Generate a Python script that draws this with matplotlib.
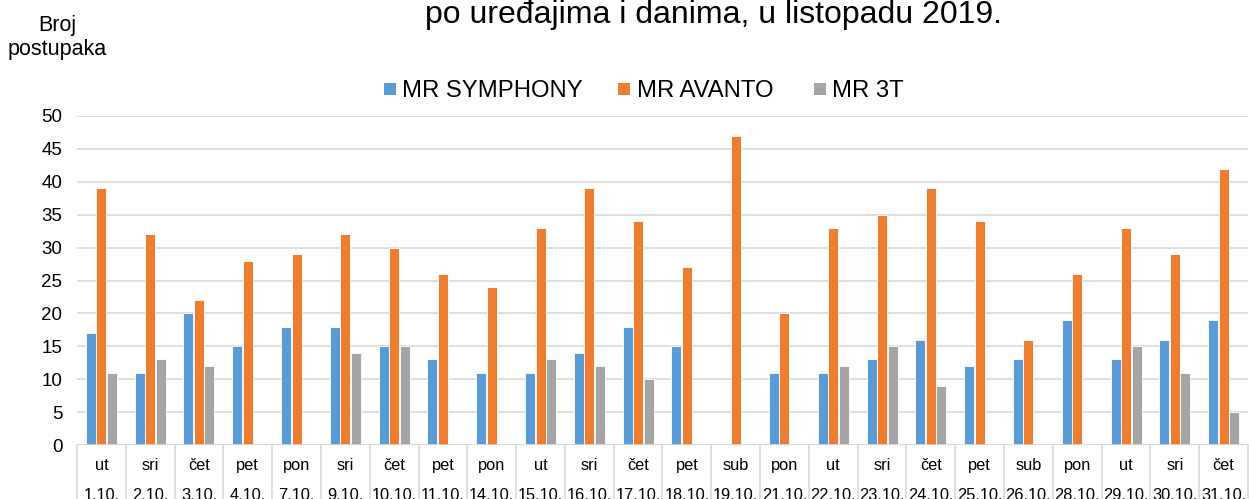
import matplotlib
matplotlib.use("Agg")
import matplotlib.pyplot as plt
from matplotlib.patches import Rectangle
import numpy as np

plt.rcParams['font.family'] = ['Liberation Sans', 'DejaVu Sans']

days = ["ut", "sri", "čet", "pet", "pon", "sri", "čet", "pet", "pon", "ut", "sri", "čet",
        "pet", "sub", "pon", "ut", "sri", "čet", "pet", "sub", "pon", "ut", "sri", "čet"]
dates = ["1.10.", "2.10.", "3.10.", "4.10.", "7.10.", "9.10.", "10.10.", "11.10.", "14.10.",
         "15.10.", "16.10.", "17.10.", "18.10.", "19.10.", "21.10.", "22.10.", "23.10.",
         "24.10.", "25.10.", "26.10.", "28.10.", "29.10.", "30.10.", "31.10."]
symphony = [17, 11, 20, 15, 18, 18, 15, 13, 11, 11, 14, 18, 15, 0, 11, 11, 13, 16, 12, 13, 19, 13, 16, 19]
avanto = [39, 32, 22, 28, 29, 32, 30, 26, 24, 33, 39, 34, 27, 47, 20, 33, 35, 39, 34, 16, 26, 33, 29, 42]
mr3t = [11, 13, 12, 0, 0, 14, 15, 0, 0, 13, 12, 10, 0, 0, 0, 12, 15, 9, 0, 0, 0, 15, 11, 5]
series_names = ["MR SYMPHONY", "MR AVANTO", "MR 3T"]
colors = ["#5B9BD5", "#ED7D31", "#A5A5A5"]
title = "po uređajima i danima, u listopadu 2019."
yticks = [0, 5, 10, 15, 20, 25, 30, 35, 40, 45, 50]

W, H = 1249, 499
fig = plt.figure(figsize=(W / 100, H / 100), dpi=100)

def fx(x):
    return x / W

def fy(y):
    return 1 - y / H

ax_l, ax_r, ax_t, ax_b = 77, 1248, 116, 445
ax = fig.add_axes([fx(ax_l), fy(ax_b), fx(ax_r - ax_l), (ax_b - ax_t) / H])

n = len(days)
x = np.arange(n)
pitch = 0.215
bw = 0.205
for i, (vals, c) in enumerate(zip([symphony, avanto, mr3t], colors)):
    ax.bar(x + (i - 1) * pitch, vals, width=bw, color=c, edgecolor="white", linewidth=0.6, zorder=3)

ax.set_xlim(-0.5, n - 0.5)
ax.set_ylim(0, 50)
ax.set_yticks(yticks)
ax.tick_params(axis='y', length=0, pad=10.5, labelsize=13.5, labelcolor="#000000")
ax.set_xticks([])
ax.grid(axis='y', color="#d9d9d9", linewidth=1.2, zorder=0)
for s in ax.spines.values():
    s.set_visible(False)
ax.axhline(0, color="#d9d9d9", linewidth=1.2, zorder=4)

# category table separators
axis_h = ax_b - ax_t
ybot = -(H - ax_b + 2) / axis_h
for b in np.arange(-0.5, n, 1.0):
    ax.plot([b, b], [0, ybot], transform=ax.get_xaxis_transform(), color="#d9d9d9",
            linewidth=1.2, clip_on=False, zorder=1)

day_y = -(470 - ax_b) / axis_h
date_y = -(500 - ax_b) / axis_h
for i in range(n):
    ax.text(i, day_y, days[i], transform=ax.get_xaxis_transform(), ha='center', va='baseline',
            fontsize=11.8, color="#000000")
    ax.text(i, date_y, dates[i], transform=ax.get_xaxis_transform(), ha='center', va='baseline',
            fontsize=11.8, color="#000000")

# title (visible line)
fig.text(fx(713), fy(22.5), title, ha='center', va='baseline', fontsize=23, color="#000000")

# y label
fig.text(fx(57), fy(31), "Broj", ha='center', va='baseline', fontsize=15.5)
fig.text(fx(57), fy(55), "postupaka", ha='center', va='baseline', fontsize=15.5)

# legend
leg_sq = [384, 618, 814]
leg_tx = [402, 637, 832]
for sx, tx, name, c in zip(leg_sq, leg_tx, series_names, colors):
    fig.patches.append(Rectangle((fx(sx), fy(95)), 12 / W, 12 / H, transform=fig.transFigure,
                                 facecolor=c, edgecolor='none'))
    fig.text(fx(tx), fy(97), name, ha='left', va='baseline', fontsize=17.2)

fig.savefig("out.png", dpi=100)
